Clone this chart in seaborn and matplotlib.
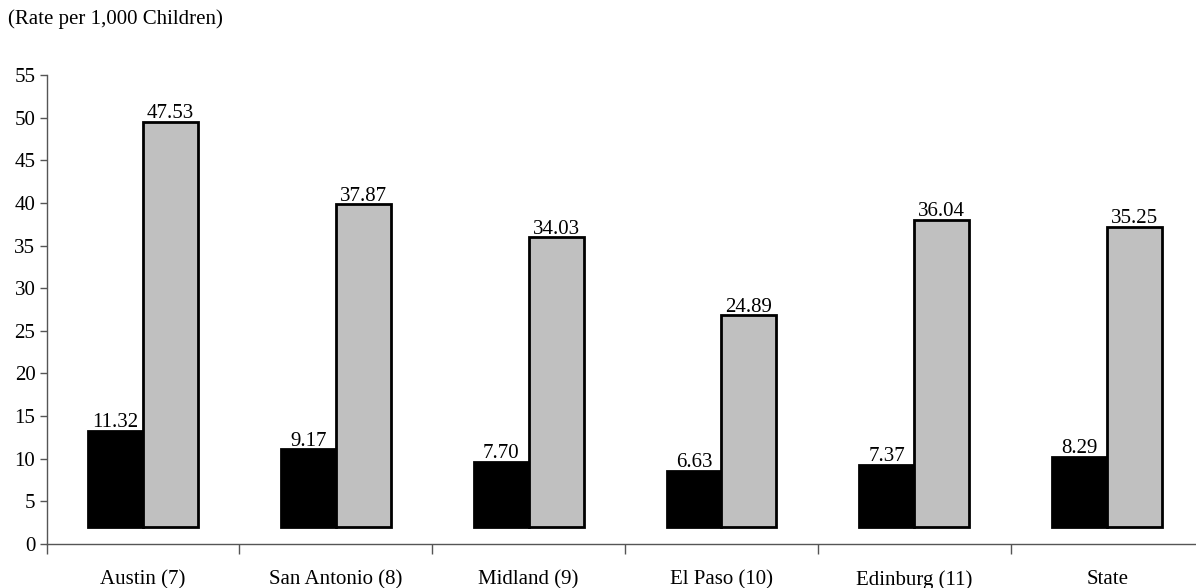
import matplotlib
matplotlib.use("Agg")
import matplotlib.pyplot as plt
import seaborn as sns
import pandas as pd
from matplotlib.ticker import FixedLocator

categories = ["Austin (7)", "San Antonio (8)", "Midland (9)", "El Paso (10)", "Edinburg (11)", "State"]
series_names = ["Series 1", "Series 2"]
series1 = [11.32, 9.17, 7.70, 6.63, 7.37, 8.29]
series2 = [47.53, 37.87, 34.03, 24.89, 36.04, 35.25]
yticks = list(range(0, 60, 5))
title = "(Rate per 1,000 Children)"

base = 1.95  # floor offset of the bars as drawn in the original

df = pd.DataFrame({
    "Region": categories * 2,
    "Series": [series_names[0]] * len(categories) + [series_names[1]] * len(categories),
    "Rate": series1 + series2,
})

sns.set_style("white")
plt.rcParams["font.family"] = ["Liberation Serif", "DejaVu Serif"]
plt.rcParams["text.color"] = "black"
plt.rcParams["xtick.labelcolor"] = "black"
plt.rcParams["ytick.labelcolor"] = "black"

fig = plt.figure(figsize=(11.96, 5.88), dpi=100)
ax = fig.add_axes([46.5 / 1196, (588 - 544) / 588, (1203.6 - 46.5) / 1196, 469 / 588])

sns.barplot(data=df, x="Region", y="Rate", hue="Series", order=categories,
            hue_order=series_names, palette=["#000000", "#C0C0C0"],
            width=0.57, gap=0, dodge=True, legend=False, ax=ax,
            edgecolor="black", linewidth=2, bottom=base, errorbar=None)

for cont in ax.containers:
    labels = [f"{v:.2f}" for v in cont.datavalues]
    ax.bar_label(cont, labels=labels, padding=-1, fontsize=15, color="black")

ax.set_xlim(-0.5, len(categories) - 0.5)
ax.set_ylim(0, 55)
ax.set_yticks(yticks)
ax.tick_params(axis="y", labelsize=15, length=5, width=1, color="#555555",
               direction="out", left=True, pad=3, labelcolor="black")
ax.tick_params(axis="x", which="major", length=0, labelsize=15, pad=19, labelcolor="black")
ax.xaxis.set_minor_locator(FixedLocator([i - 0.5 for i in range(len(categories) + 1)]))
ax.tick_params(axis="x", which="minor", length=7, width=1, color="#555555", direction="out", bottom=True)
ax.set_xlabel("")
ax.set_ylabel("")
for s in ["top", "right"]:
    ax.spines[s].set_visible(False)
for s in ["left", "bottom"]:
    ax.spines[s].set_color("#555555")
    ax.spines[s].set_linewidth(1)

fig.text(8 / 1196, 1 - 19 / 588, title, fontsize=15, va="center", ha="left", color="black")

fig.savefig("out.png", dpi=100)
